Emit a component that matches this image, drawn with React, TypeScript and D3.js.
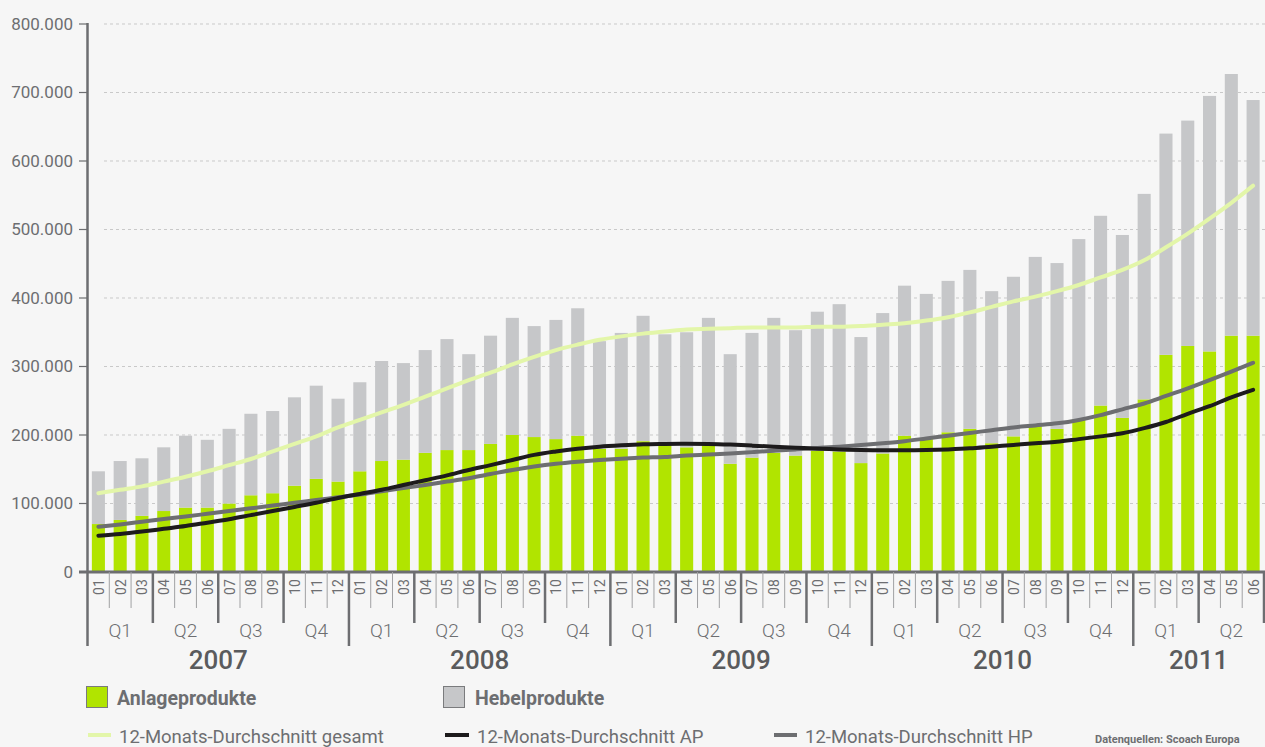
import React from 'react';
import * as d3 from 'd3';

const years = ['2007', '2008', '2009', '2010', '2011'];
const monthLabels = ['01', '02', '03', '04', '05', '06', '07', '08', '09', '10', '11', '12'];
const quarterLabels = ['Q1', 'Q2', 'Q3', 'Q4'];
const monthCount = 54;

// Anlageprodukte (thousands)
const anlage = [
  70, 76, 82, 89, 94, 94, 100, 112, 115, 126, 136, 132,
  147, 162, 164, 174, 178, 178, 187, 200, 197, 194, 199, 180,
  180, 191, 186, 182, 188, 158, 167, 174, 170, 177, 176, 159,
  173, 199, 194, 204, 209, 188, 198, 213, 209, 223, 243, 225,
  252, 317, 330, 322, 345, 345,
];
// Hebelprodukte (thousands)
const hebel = [
  77, 86, 84, 93, 105, 99, 109, 119, 120, 129, 136, 121,
  130, 146, 141, 150, 162, 140, 158, 171, 162, 174, 186, 157,
  169, 183, 161, 168, 183, 160, 182, 197, 183, 203, 215, 184,
  205, 219, 212, 221, 232, 222, 233, 247, 242, 263, 277, 267,
  300, 323, 329, 373, 382, 344,
];
// 12-Monats-Durchschnitt gesamt
const avgGesamt = [
  115, 120, 125, 132, 139, 147, 156, 165, 176, 187, 198, 211,
  222, 233, 244, 256, 268, 280, 291, 303, 314, 324, 332, 339,
  344, 348, 351, 354, 355, 356, 357, 357, 357, 358, 358, 359,
  361, 363, 367, 372, 379, 387, 395, 402, 410, 419, 430, 441,
  455, 474, 494, 516, 539, 564,
];
// 12-Monats-Durchschnitt AP
const avgAP = [
  53, 55.5, 59, 63, 67, 72, 77, 83, 89, 95, 101, 108,
  114, 120, 127, 134, 141, 149, 156, 163.5, 171, 176, 180, 183,
  185, 186.5, 187, 187.3, 187, 186, 184.5, 183, 181.5, 180, 179, 178,
  177.6, 177.6, 178, 179, 180.5, 183, 185.5, 188, 190, 194, 198, 202.5,
  210, 219, 231, 242, 255, 266,
];
// 12-Monats-Durchschnitt HP
const avgHP = [
  66, 69.5, 73.5, 77.5, 81, 85, 89, 93, 97, 101, 105, 109,
  113, 118, 122.5, 127, 132, 137, 143, 149, 154, 158, 161, 163.5,
  165.5, 167, 168, 170, 171.5, 173, 175, 177, 179, 181, 183, 185.5,
  188, 191, 195, 199, 203, 207, 211, 214, 217, 222, 229, 237.5,
  246, 257, 268, 280, 292.5, 305.5,
];
const yTicks = [0, 100000, 200000, 300000, 400000, 500000, 600000, 700000, 800000];
const yTickLabels = ['0', '100.000', '200.000', '300.000', '400.000', '500.000', '600.000', '700.000', '800.000'];

const W = 1265;
const H = 747;
const FONT = "Roboto, 'Liberation Sans', sans-serif";
const TXT = '#6d6e71';
const GREEN = '#b1e400';
const GRAY = '#c6c7c9';

export default function App() {
  const x0 = 87.5;
  const x1 = 1264;
  const y = d3.scaleLinear().domain([0, 800000]).range([572, 24]);
  const xCell = d3.scaleLinear().domain([0, monthCount]).range([x0, x1]);
  const band = d3.scaleBand<number>().domain(d3.range(monthCount)).range([x0, x1]).paddingInner(0.4).paddingOuter(0.2);
  const cx = (i: number) => xCell(i + 0.5);

  const mkLine = (arr: number[]) =>
    d3.line<number>().x((_, i) => cx(i)).y((v) => y(v * 1000)).curve(d3.curveMonotoneX)(arr) || '';

  const monthData = d3.range(monthCount).map((i) => ({
    i,
    label: monthLabels[i % 12],
    a: anlage[i] * 1000,
    h: hebel[i] * 1000,
  }));

  const seps = d3.range(1, monthCount + 1).map((i) => {
    const kind = i % 12 === 0 ? 'y' : i % 3 === 0 ? 'q' : 'm';
    return { i, kind };
  });

  const quarters = d3.range(monthCount / 3).map((q) => ({
    q,
    label: quarterLabels[q % 4],
    x: xCell(q * 3 + 1.5),
  }));
  const yearItems = years.map((yr, k) => {
    const s = k * 12;
    const e = Math.min(monthCount, s + 12);
    return { yr, x: xCell((s + e) / 2) };
  });

  return (
    <svg width={W} height={H} style={{ position: 'absolute', left: 0, top: 0, fontFamily: FONT }}>
      <rect x={0} y={0} width={W} height={H} fill="#f6f6f6" />
      {/* gridlines */}
      {yTicks.slice(1).map((t) => (
        <line key={t} x1={104} x2={W} y1={y(t)} y2={y(t)} stroke="#c9c9c9" strokeWidth={1} strokeDasharray="3,3" />
      ))}
      {/* bars */}
      {monthData.map((d) => (
        <g key={d.i}>
          <rect x={band(d.i)!} width={band.bandwidth()} y={y(d.a)} height={y(0) - y(d.a)} fill={GREEN} />
          <rect x={band(d.i)!} width={band.bandwidth()} y={y(d.a + d.h)} height={y(d.a) - y(d.a + d.h)} fill={GRAY} />
        </g>
      ))}
      {/* lines */}
      <path d={mkLine(avgGesamt)} fill="none" stroke="#e3f6a9" strokeWidth={4} strokeLinecap="round" />
      <path d={mkLine(avgHP)} fill="none" stroke="#6d6e71" strokeWidth={4} strokeLinecap="round" />
      <path d={mkLine(avgAP)} fill="none" stroke="#1d1b1c" strokeWidth={4} strokeLinecap="round" />
      {/* y axis */}
      <line x1={x0} x2={x0} y1={y(800000) - 1} y2={646} stroke={TXT} strokeWidth={2.5} />
      {yTicks.map((t, k) => (
        <g key={t}>
          <line x1={79} x2={x0} y1={y(t)} y2={y(t)} stroke={TXT} strokeWidth={1.2} />
          <text x={73} y={y(t)} dy="0.35em" textAnchor="end" fontSize={17} fill={TXT}>
            {yTickLabels[k]}
          </text>
        </g>
      ))}
      {/* x axis baseline */}
      <line x1={79} x2={W} y1={572} y2={572} stroke={TXT} strokeWidth={3} />
      {seps.map((s) => {
        const xx = xCell(s.i);
        const y2 = s.kind === 'y' ? 646 : s.kind === 'q' ? 623 : 608;
        return (
          <line
            key={s.i}
            x1={xx}
            x2={xx}
            y1={572}
            y2={y2}
            stroke={s.kind === 'm' ? '#a0a1a3' : TXT}
            strokeWidth={s.kind === 'm' ? 1 : 2.5}
          />
        );
      })}
      {monthData.map((d) => (
        <text
          key={d.i}
          transform={`translate(${cx(d.i) + 0.5},${587}) rotate(-90)`}
          textAnchor="middle"
          dy="0.35em"
          fontSize={14}
          fill={TXT}
        >
          {d.label}
        </text>
      ))}
      {quarters.map((q) => (
        <text key={q.q} x={q.x} y={637} textAnchor="middle" fontSize={19} fontWeight={300} fill={TXT}>
          {q.label}
        </text>
      ))}
      {yearItems.map((yi) => (
        <text key={yi.yr} x={yi.x} y={669} textAnchor="middle" fontSize={26} fontWeight={500} fill="#5a5b5d">
          {yi.yr}
        </text>
      ))}
      {/* legend */}
      <rect x={86.5} y={686.5} width={21} height={21} fill={GREEN} stroke="#7a7b7d" strokeWidth={1} />
      <text x={117} y={705} fontSize={19.5} fontWeight={700} fill={TXT}>Anlageprodukte</text>
      <rect x={443.5} y={686.5} width={21} height={21} fill={GRAY} stroke="#7a7b7d" strokeWidth={1} />
      <text x={475} y={705} fontSize={19.5} fontWeight={700} fill={TXT}>Hebelprodukte</text>

      <line x1={88} x2={111} y1={735} y2={735} stroke="#e3f6a9" strokeWidth={4} />
      <text x={119} y={743} fontSize={18.5} fill={TXT}>12-Monats-Durchschnitt gesamt</text>
      <line x1={445} x2={469} y1={735} y2={735} stroke="#1d1b1c" strokeWidth={4} />
      <text x={477} y={743} fontSize={18.5} fill={TXT}>12-Monats-Durchschnitt AP</text>
      <line x1={774} x2={797} y1={735} y2={735} stroke="#6d6e71" strokeWidth={4} />
      <text x={805} y={743} fontSize={18.5} fill={TXT}>12-Monats-Durchschnitt HP</text>
      <text x={1095} y={743} fontSize={11} fontWeight={700} fill={TXT}>Datenquellen: Scoach Europa</text>
    </svg>
  );
}
